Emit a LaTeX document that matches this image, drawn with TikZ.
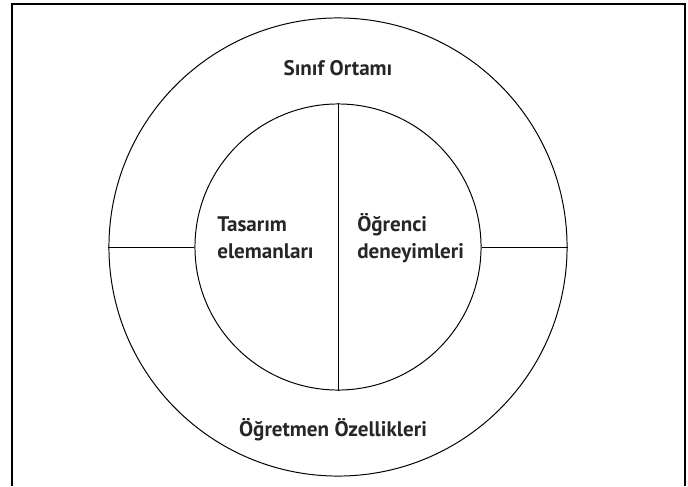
\documentclass[tikz,border=0pt]{standalone}
\usepackage{fontspec}
\setmainfont{PT Sans}
\usepackage{tikz}
\usetikzlibrary{positioning}

\begin{document}
\begin{tikzpicture}[x=0.025cm, y=-0.025cm,
  ring/.style={circle, draw, line width=0.7pt, inner sep=0pt},
  lbl/.style={font=\fontsize{15}{18.5}\selectfont\bfseries, inner sep=0pt, text=black!85},
  sep/.style={line width=0.7pt}
]
\useasboundingbox (0,0) rectangle (688,486);
% frame, open at the bottom
\draw[line width=0.9pt] (12,486) -- (12,4) -- (685,4) -- (685,486);
% rings
\node[ring, minimum size=11.45cm] (outer) at (338,247) {};
\node[ring, minimum size=7.15cm] (inner) at (338,247) {};
% dividers
\draw[sep] (outer.west) -- (inner.west);
\draw[sep] (inner.east) -- (outer.east);
\draw[sep] (inner.north) -- (inner.south);
% labels
\node[lbl, anchor=base] (sinif) at (338,75) {Sınıf Ortamı};
\node[lbl, anchor=base] (ogretmen) at (333,436) {Öğretmen Özellikleri};
\node[lbl, anchor=base west, align=left] (tasarim) at (217,258) {Tasarım\\elemanları};
\node[lbl, anchor=base west, align=left] (ogrenci) at (357,258) {Öğrenci\\deneyimleri};
\end{tikzpicture}
\end{document}
